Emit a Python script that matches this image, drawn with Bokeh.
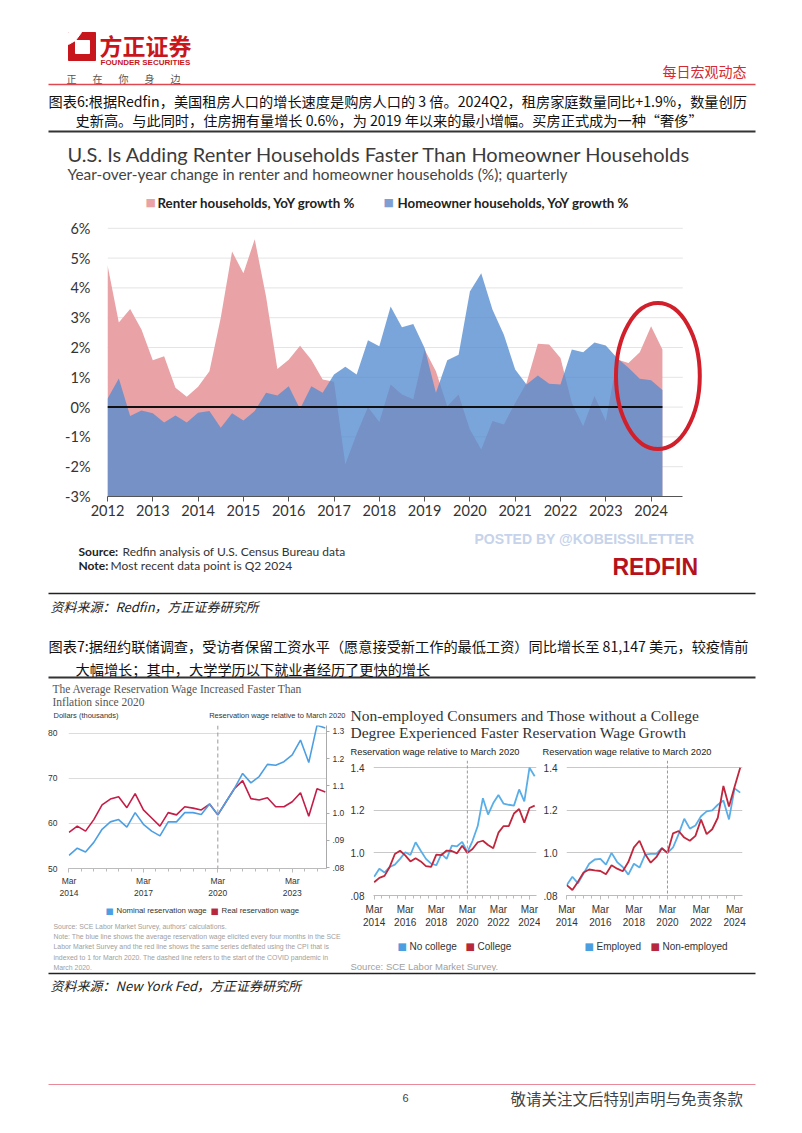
import numpy as np
from bokeh.plotting import figure
from bokeh.models import (Range1d, LinearAxis, FixedTicker, Label, Span,
                          CustomJSTickFormatter)
from bokeh.layouts import column, row
from bokeh.embed import file_html
from bokeh.resources import INLINE

# ---------------------------------------------------------------- data
quarters = [2012 + q / 4 for q in range(50)]          # 2012Q1 .. 2024Q2
renter_yoy = [4.77, 2.84, 3.29, 2.60, 1.57, 1.71, 0.65, 0.35, 0.68, 1.20,
              3.00, 5.22, 4.49, 5.63, 3.71, 1.28, 1.59, 2.06, 1.59, 0.93,
              0.85, -1.92, -0.90, 0.00, -0.50, 0.76, 0.42, 0.26, 1.93, 1.20,
              0.03, 0.42, -0.75, -1.42, -0.47, -0.58, 0.14, 0.81, 2.13, 2.10,
              1.65, 0.14, -0.64, 0.37, -0.47, 1.60, 1.48, 1.84, 2.71, 1.93]
owner_yoy = [0.28, 0.96, -0.30, -0.11, -0.21, -0.52, -0.28, -0.52, -0.19, -0.13,
             -0.69, -0.21, -0.45, -0.13, 0.48, 0.39, 0.70, -0.06, 0.70, 0.48,
             1.09, 1.35, 1.09, 2.24, 2.04, 3.38, 2.68, 2.79, 1.98, 0.48,
             1.57, 1.76, 3.88, 4.49, 3.27, 2.43, 1.26, 0.76, 1.06, 0.78,
             0.76, 1.93, 1.84, 2.17, 2.07, 1.65, 1.32, 0.95, 0.90, 0.57]
year_ticks_1 = list(range(2012, 2025))
pct_ticks = list(range(-3, 7))

# survey waves every four months, Mar 2014 .. Jul 2024
wave_years = [y for y in range(2014, 2025) for _ in range(3)][:32]
wave_months = ([3, 7, 11] * 11)[:32]
wage_dates = [y + (m - 1) / 12 for y, m in zip(wave_years, wave_months)]
nominal_wage = [52.9, 54.5, 53.65, 55.8, 58.7, 60.35, 60.85, 59.2, 62.4, 59.8,
                58.3, 57.25, 60.35, 60.35, 62.4, 62.4, 62.0, 64.3, 61.9, 64.8,
                67.7, 71.1, 69.0, 70.4, 73.1, 72.9, 73.7, 75.2, 78.5, 73.5,
                81.8, 81.15]
real_wage = [58.0, 59.4, 58.3, 60.85, 64.1, 65.4, 65.9, 63.5, 66.6, 63.0,
             61.2, 59.4, 62.4, 61.9, 63.7, 63.4, 63.0, 64.3, 61.9, 64.8,
             67.7, 69.5, 65.5, 65.2, 65.7, 63.7, 63.7, 64.8, 66.8, 61.6,
             67.7, 67.0]
nocollege_rel = [0.888, 0.926, 0.908, 0.934, 0.945, 0.972, 1.003, 0.990, 1.050, 1.010,
                 0.972, 0.950, 0.942, 0.995, 0.972, 1.034, 1.031, 1.052, 1.003, 1.057,
                 1.126, 1.257, 1.180, 1.234, 1.272, 1.231, 1.226, 1.222, 1.298, 1.242,
                 1.400, 1.360]
college_rel = [0.862, 0.883, 0.892, 0.934, 0.995, 1.010, 0.988, 0.960, 0.975, 0.960,
               0.938, 0.934, 0.992, 0.990, 1.011, 1.009, 0.998, 1.034, 1.000, 1.018,
               1.050, 1.057, 1.037, 1.022, 1.095, 1.126, 1.126, 1.185, 1.206, 1.142,
               1.211, 1.222]
employed_rel = [0.849, 0.888, 0.857, 0.903, 0.949, 0.969, 0.972, 0.945, 1.000, 0.957,
                0.934, 0.898, 0.949, 0.931, 0.992, 0.995, 0.995, 1.022, 1.000, 1.026,
                1.088, 1.160, 1.114, 1.129, 1.172, 1.195, 1.200, 1.226, 1.246, 1.157,
                1.303, 1.283]
nonemployed_rel = [0.849, 0.826, 0.865, 0.908, 0.922, 0.918, 0.915, 0.900, 0.942, 0.926,
                   0.914, 0.957, 1.026, 1.057, 0.995, 0.954, 0.980, 1.022, 1.000, 1.092,
                   1.103, 1.072, 1.057, 1.080, 1.157, 1.088, 1.111, 1.165, 1.314, 1.218,
                   1.310, 1.400]
covid_start = 2020 + 2 / 12

# ---------------------------------------------------------------- styles
CJK = "Noto Sans CJK SC"
SANS = "Liberation Sans"
SERIF = "Liberation Serif"
SQ = "DejaVu Sans"
RED = "#c8161d"
PINK = "#e9a2a6"
BLUE1 = "#558cd0"
LBLUE = "#4d9fe3"
LRED = "#c51d48"
RBLUE = "#5aaee8"
RRED = "#c0263c"
PAGE_W = 800


def put(p, px, py, text, size, color="#222", font=CJK, style="normal",
        align="left"):
    p.add_layout(Label(x=px, y=py, text=text, text_font=font,
                       text_font_size=f"{size}px", text_color=color,
                       text_font_style=style, text_align=align,
                       text_baseline="middle"))


def text_fig(x0, x1, y0, y1):
    p = figure(width=x1 - x0, height=y1 - y0,
               x_range=Range1d(x0, x1), y_range=Range1d(y1, y0),
               x_axis_location=None, y_axis_location=None,
               toolbar_location=None, output_backend="svg",
               min_border=0, outline_line_color=None, frame_align=False)
    p.grid.visible = False
    return p


def chart_fig(x0, x1, y0, y1, fl, fr, ft, fb, xr, yr):
    p = figure(width=x1 - x0, height=y1 - y0, x_range=Range1d(*xr),
               y_range=Range1d(*yr), toolbar_location=None,
               output_backend="svg", min_border_left=fl - x0,
               min_border_right=x1 - fr, min_border_top=ft - y0,
               min_border_bottom=y1 - fb, outline_line_color=None,
               frame_align=False)
    return p


def style_axis(ax, font, size, color="#333"):
    ax.major_label_text_font = font
    ax.major_label_text_font_size = f"{size}px"
    ax.major_label_text_color = color


# ---------------------------------------------------------------- header
hdr = text_fig(0, PAGE_W, 0, 135)
hdr.patch([68, 95, 95, 68], [32, 32, 60, 60], color=RED)
hdr.patch([75, 89, 89, 75], [40, 40, 53, 53], color="white")
hdr.patch([68, 81, 75, 68], [32, 32, 40, 44], color="white")
put(hdr, 99, 44, "方正证券", 23, RED, CJK, "bold")
put(hdr, 100, 62, "FOUNDER SECURITIES", 8, RED, SANS, "bold")
for i, ch in enumerate("正在你身边"):
    put(hdr, 66 + 26 * i, 78, ch, 10, "#555")
put(hdr, 746, 70, "每日宏观动态", 14, "#d42a33", align="right")
hdr.line([48, 755], [84, 84], line_color="#e0474f", line_width=1.5)
put(hdr, 48, 100,
    "图表6:根据Redfin，美国租房人口的增长速度是购房人口的 3 倍。2024Q2，租房家庭数量同比+1.9%，数量创历",
    14.2, "#111")
put(hdr, 75, 119,
    "史新高。与此同时，住房拥有量增长 0.6%，为 2019 年以来的最小增幅。买房正式成为一种“奢侈”",
    14.2, "#111")
hdr.line([48, 755], [131, 131], line_color="#333", line_width=2)

# ---------------------------------------------------------------- chart 1
c1top = text_fig(0, PAGE_W, 135, 212)
put(c1top, 67, 153,
    "U.S. Is Adding Renter Households Faster Than Homeowner Households",
    20, "#3b3b3b", "Lato")
put(c1top, 67, 173,
    "Year-over-year change in renter and homeowner households (%); quarterly",
    15.4, "#444", "Lato")
put(c1top, 145, 202, "■", 11, PINK, SQ)
put(c1top, 157, 202, "Renter households, YoY growth %", 13.3, "#222", "Lato",
    "bold")
put(c1top, 383, 202, "■", 11, "#7d9fd3", SQ)
put(c1top, 397, 202, "Homeowner households, YoY growth %", 13.3, "#222",
    "Lato", "bold")

fl, fr, ft, fb = 107, 710, 212, 496
ppx, ppy = 45.3, 29.8
xr1 = (2012, 2012 + (fr - fl) / ppx)
yr1 = (-3, -3 + (fb - ft) / ppy)
p1 = chart_fig(0, PAGE_W, 212, 527, fl, fr, ft, fb, xr1, yr1)
p1.grid.visible = False
grid_vals = pct_ticks[1:]
p1.segment(x0=year_ticks_1[0], x1=2024.7, y0=grid_vals, y1=grid_vals,
           line_color="#e4e4e4", line_width=1)
p1.varea(x=quarters, y1=pct_ticks[0], y2=renter_yoy, fill_color=PINK)
p1.varea(x=quarters, y1=pct_ticks[0], y2=owner_yoy, fill_color=BLUE1,
         fill_alpha=0.78)
p1.line(x=[quarters[0], quarters[-1]], y=[0, 0], line_color="#111",
        line_width=2)
p1.ellipse(x=2024.15, y=1.04, width=1.85, height=4.9, fill_color=None,
           line_color="#d1202b", line_width=4)
p1.xaxis.ticker = FixedTicker(ticks=year_ticks_1)
p1.xaxis.bounds = (2012, 2024.7)
p1.xaxis.axis_line_color = "#555"
p1.xaxis.major_tick_line_color = "#555"
p1.xaxis.major_tick_out = 5
p1.xaxis.major_tick_in = 0
p1.xaxis.minor_tick_line_color = None
p1.xaxis.major_label_standoff = 3
p1.yaxis.ticker = FixedTicker(ticks=pct_ticks)
p1.yaxis.formatter = CustomJSTickFormatter(code="return tick + '%';")
p1.yaxis.axis_line_color = None
p1.yaxis.major_tick_line_color = None
p1.yaxis.minor_tick_line_color = None
p1.yaxis.major_label_standoff = 11
style_axis(p1.xaxis[0], "Lato", 14.5)
style_axis(p1.yaxis[0], "Lato", 14.5)

# ---------------------------------------------------------------- middle text
mid = text_fig(0, PAGE_W, 527, 680)
put(mid, 474, 538, "POSTED BY @KOBEISSILETTER", 14, "#c6d3ea", SANS, "bold")
put(mid, 78, 551, "Source:", 12, "#222", "Lato", "bold")
put(mid, 122, 551, "Redfin analysis of U.S. Census Bureau data", 12, "#333",
    "Lato")
put(mid, 78, 565, "Note:", 12, "#222", "Lato", "bold")
put(mid, 110, 565, "Most recent data point is Q2 2024", 12, "#333", "Lato")
put(mid, 612, 566, "REDFIN", 23, "#b5121b", SANS, "bold")
mid.line([48, 755], [593, 593], line_color="#222", line_width=1.5)
put(mid, 50, 606, "资料来源：Redfin，方正证券研究所", 13, "#222",
    style="italic")
put(mid, 48, 645,
    "图表7:据纽约联储调查，受访者保留工资水平（愿意接受新工作的最低工资）同比增长至 81,147 美元，较疫情前",
    14.2, "#111")
put(mid, 75, 668, "大幅增长；其中，大学学历以下就业者经历了更快的增长",
    14.2, "#111")
mid.line([48, 755], [677, 677], line_color="#333", line_width=2)

# ---------------------------------------------------------------- chart 7 left
t7a = text_fig(0, 347, 680, 725)
put(t7a, 52, 688, "The Average Reservation Wage Increased Faster Than",
    11.5, "#555", SERIF)
put(t7a, 52, 701, "Inflation since 2020", 11.5, "#555", SERIF)
put(t7a, 53, 715, "Dollars (thousands)", 7.5, "#333", SANS)
put(t7a, 345, 715, "Reservation wage relative to March 2020", 7.5, "#333",
    SANS, align="right")

fl, fr, ft, fb = 68, 327, 725, 872
ppx = 24.9
xs = wage_dates[0] - 0.5 / ppx
xr7 = (xs, xs + (fr - fl) / ppx)
yr7 = (50, 50 + (fb - ft) / 4.633)
rel7 = (0.8 - 1 / 280, 0.8 + (871 - ft) / 280)
p7 = chart_fig(0, 347, 725, 900, fl, fr, ft, fb, xr7, yr7)
p7.extra_y_ranges = {"rel": Range1d(*rel7)}
p7.xgrid.visible = False
p7.ygrid.grid_line_color = "#dcdcdc"
p7.yaxis.ticker = FixedTicker(ticks=[50, 60, 70, 80])
p7.yaxis.axis_line_color = None
p7.yaxis.major_tick_line_color = None
p7.yaxis.minor_tick_line_color = None
p7.yaxis.major_label_standoff = 5
rax = LinearAxis(y_range_name="rel",
                 ticker=FixedTicker(ticks=[0.8, 0.9, 1.0, 1.1, 1.2, 1.3]))
rax.formatter = CustomJSTickFormatter(
    code="if (tick < 0.85) {return '.08';} else if (tick < 0.95) {return '.09';} "
         "return tick.toFixed(1);")
rax.axis_line_color = "#aaa"
rax.major_tick_line_color = "#aaa"
rax.major_tick_out = 3
rax.major_tick_in = 0
rax.minor_tick_line_color = None
rax.major_label_standoff = 3
p7.add_layout(rax, "right")
mar_fmt = "return 'Mar\\n' + Math.floor(tick);"
p7.xaxis.ticker = FixedTicker(
    ticks=[wage_dates[0] + 3 * k for k in range(4)],
    minor_ticks=[wage_dates[0] + 0.5 * k for k in range(21)])
p7.xaxis.formatter = CustomJSTickFormatter(code=mar_fmt)
p7.xaxis.axis_line_color = "#bbb"
p7.xaxis.major_tick_line_color = "#bbb"
p7.xaxis.minor_tick_line_color = "#bbb"
p7.xaxis.major_tick_out = 4
p7.xaxis.major_tick_in = 0
p7.xaxis.minor_tick_out = 3
p7.xaxis.minor_tick_in = 0
p7.xaxis.major_label_standoff = 3
for ax in (p7.xaxis[0], p7.yaxis[0], rax):
    style_axis(ax, SANS, 8.5)
p7.add_layout(Span(location=covid_start, dimension="height",
                   line_color="#999", line_dash="4 3", line_width=1))
p7.line(wage_dates, real_wage, line_color=LRED, line_width=1.6)
p7.line(wage_dates, nominal_wage, line_color=LBLUE, line_width=1.6)

t7b = text_fig(0, 347, 900, 971)
put(t7b, 105, 910, "■", 8.5, LBLUE, SQ)
put(t7b, 116, 910, "Nominal reservation wage", 7.8, "#333", SANS)
put(t7b, 210, 910, "■", 8.5, "#b8283c", SQ)
put(t7b, 221, 910, "Real reservation wage", 7.8, "#333", SANS)
notes = ["Source: SCE Labor Market Survey, authors' calculations.",
         "Note: The blue line shows the average reservation wage elicited every four months in the SCE",
         "Labor Market Survey and the red line shows the same series deflated using the CPI that is",
         "indexed to 1 for March 2020. The dashed line refers to the start of the COVID pandemic in",
         "March 2020."]
for i, t in enumerate(notes):
    put(t7b, 53, 926 + 10.2 * i, t, 6.9, "#a0a0a0", SANS)

# ---------------------------------------------------------------- chart 7 right
t7r = text_fig(347, PAGE_W, 680, 760)
put(t7r, 350, 715,
    "Non-employed Consumers and Those without a College", 15.5, "#333", SERIF)
put(t7r, 350, 732,
    "Degree Experienced Faster Reservation Wage Growth", 15.5, "#333", SERIF)
put(t7r, 350, 751, "Reservation wage relative to March 2020", 9.3, "#222",
    SANS)
put(t7r, 542, 751, "Reservation wage relative to March 2020", 9.3, "#222",
    SANS)

rel_ticks = [0.8, 1.0, 1.2, 1.4]


def small_panel(x0, x1, fl, fr, ppx, first_x, s1, s2):
    y0, y1, ft, fb = 760, 930, 760, 897
    xs = wage_dates[0] - (first_x - fl) / ppx
    xr = (xs, xs + (fr - fl) / ppx)
    yr = (0.8, 1.4 + (767.3 - ft) / 216.2)
    p = chart_fig(x0, x1, y0, y1, fl, fr, ft, fb, xr, yr)
    p.xgrid.visible = False
    p.ygrid.grid_line_color = "#c8c8c8"
    p.yaxis.ticker = FixedTicker(ticks=rel_ticks)
    p.yaxis.formatter = CustomJSTickFormatter(
        code="return tick < 0.9 ? '.08' : tick.toFixed(1);")
    p.yaxis.axis_line_color = None
    p.yaxis.major_tick_line_color = None
    p.yaxis.minor_tick_line_color = None
    p.yaxis.major_label_standoff = 3
    p.xaxis.ticker = FixedTicker(
        ticks=[wage_dates[0] + 2 * k for k in range(6)],
        minor_ticks=[wage_dates[0] + 0.5 * k for k in range(21)])
    p.xaxis.formatter = CustomJSTickFormatter(code=mar_fmt)
    p.xaxis.axis_line_color = "#bbb"
    p.xaxis.major_tick_line_color = "#bbb"
    p.xaxis.minor_tick_line_color = "#bbb"
    p.xaxis.major_tick_out = 4
    p.xaxis.major_tick_in = 0
    p.xaxis.minor_tick_out = 3
    p.xaxis.minor_tick_in = 0
    p.xaxis.major_label_standoff = 4
    style_axis(p.xaxis[0], SANS, 10)
    style_axis(p.yaxis[0], SANS, 10)
    p.add_layout(Span(location=covid_start, dimension="height",
                      line_color="#999", line_dash="3 2", line_width=1))
    p.line(wage_dates, s1, line_color=RBLUE, line_width=1.8)
    p.line(wage_dates, s2, line_color=RRED, line_width=1.8)
    return p


mid7 = small_panel(347, 540, 366, 536, 16.2, 366.7, nocollege_rel, college_rel)
right7 = small_panel(540, PAGE_W, 564, 742, 16.97, 564.3, employed_rel,
                     nonemployed_rel)

t7c = text_fig(347, PAGE_W, 930, 971)
for lx, t1, t2, lx2 in ((397, "No college", "College", 465),
                        (584, "Employed", "Non-employed", 650)):
    put(t7c, lx, 946, "■", 10, "#4b9fe0", SQ)
    put(t7c, lx + 12, 946, t1, 10, "#333", SANS)
    put(t7c, lx2, 946, "■", 10, "#b8283c", SQ)
    put(t7c, lx2 + 12, 946, t2, 10, "#333", SANS)
put(t7c, 350, 966, "Source: SCE Labor Market Survey.", 9.5, "#a0a0a0", SANS)

# ---------------------------------------------------------------- footer
foot = text_fig(0, PAGE_W, 971, 1131)
foot.line([48, 755], [973, 973], line_color="#222", line_width=1.5)
put(foot, 50, 985, "资料来源：New York Fed，方正证券研究所", 13, "#222",
    style="italic")
foot.line([48, 755], [1084, 1084], line_color="#e98a9b", line_width=1)
put(foot, 405, 1097, "6", 11, "#444", SANS, align="center")
put(foot, 510, 1097, "敬请关注文后特别声明与免责条款", 15.5, "#444")

layout = column(
    hdr, c1top, p1, mid,
    row(column(t7a, p7, t7b), column(t7r, row(mid7, right7), t7c)),
    foot)
open("out.html", "w").write(file_html(layout, INLINE))
